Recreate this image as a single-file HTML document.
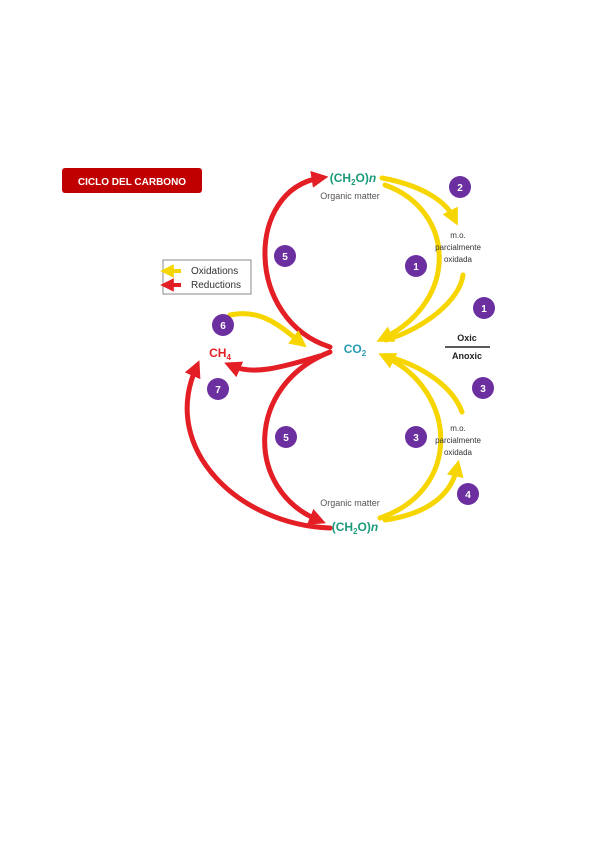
<!DOCTYPE html>
<html><head><meta charset="utf-8"><style>
html,body{margin:0;padding:0;background:#fff;}
svg{display:block;font-family:"Liberation Sans",sans-serif;}
</style></head><body>
<svg width="600" height="848" viewBox="0 0 600 848">
<defs>
<marker id="ry" markerWidth="3.4" markerHeight="3.4" refX="1.7" refY="1.7" orient="auto" markerUnits="strokeWidth"><path d="M0,0 L3.4,1.7 L0,3.4 Z" fill="#f7d500"/></marker>
<marker id="rr" markerWidth="3.4" markerHeight="3.4" refX="1.7" refY="1.7" orient="auto" markerUnits="strokeWidth"><path d="M0,0 L3.4,1.7 L0,3.4 Z" fill="#e31e24"/></marker>
</defs>
<rect x="62" y="168" width="140" height="25" rx="3" fill="#c00000"/>
<text x="132" y="185" font-size="10" font-weight="bold" fill="#fff" text-anchor="middle">CICLO DEL CARBONO</text>
<rect x="163" y="260" width="88" height="34" fill="#fff" stroke="#888"/>
<path d="M167,271 h14" stroke="#f7d500" stroke-width="4" marker-end="url(#ry)" transform="rotate(180 174 271)"/>
<path d="M167,285 h14" stroke="#e31e24" stroke-width="4" marker-end="url(#rr)" transform="rotate(180 174 285)"/>
<text x="191" y="274" font-size="10" fill="#333">Oxidations</text>
<text x="191" y="288" font-size="10" fill="#333">Reductions</text>
<g fill="none" stroke-width="5" stroke-linecap="round">
<path d="M330,347 C245,320 245,190 320,178" stroke="#e31e24" marker-end="url(#rr)"/>
<path d="M330,352 C245,385 245,490 318,520" stroke="#e31e24" marker-end="url(#rr)"/>
<path d="M330,528 C240,525 160,450 196,368" stroke="#e31e24" marker-end="url(#rr)"/>
<path d="M320,356 C285,366 255,376 232,366" stroke="#e31e24" marker-end="url(#rr)"/>
<path d="M382,178 C420,185 445,200 454,218" stroke="#f7d500" marker-end="url(#ry)"/>
<path d="M385,185 C455,210 460,300 384,338" stroke="#f7d500" marker-end="url(#ry)"/>
<path d="M463,275 C460,300 425,328 386,340" stroke="#f7d500"/>
<path d="M230,315 C262,308 282,328 300,342" stroke="#f7d500" marker-end="url(#ry)"/>
<path d="M380,518 C462,490 458,392 386,357" stroke="#f7d500" marker-end="url(#ry)"/>
<path d="M462,412 C452,385 420,365 386,356" stroke="#f7d500"/>
<path d="M385,520 C420,515 450,500 457,468" stroke="#f7d500" marker-end="url(#ry)"/>
</g>
<text x="353" y="182" font-size="12" font-weight="bold" fill="#1a9a7a" text-anchor="middle">(CH<tspan font-size="8" dy="3">2</tspan><tspan dy="-3">O)</tspan><tspan font-style="italic">n</tspan></text>
<text x="350" y="199" font-size="9" fill="#555" text-anchor="middle">Organic matter</text>
<text x="355" y="353" font-size="12" font-weight="bold" fill="#2a9ab0" text-anchor="middle">CO<tspan font-size="8" dy="3">2</tspan></text>
<text x="220" y="357" font-size="12" font-weight="bold" fill="#e31e24" text-anchor="middle">CH<tspan font-size="8" dy="3">4</tspan></text>
<text x="350" y="506" font-size="9" fill="#555" text-anchor="middle">Organic matter</text>
<text x="355" y="531" font-size="12" font-weight="bold" fill="#1a9a7a" text-anchor="middle">(CH<tspan font-size="8" dy="3">2</tspan><tspan dy="-3">O)</tspan><tspan font-style="italic">n</tspan></text>
<g font-size="8" fill="#333" text-anchor="middle">
<text x="458" y="238">m.o.</text><text x="458" y="250">parcialmente</text><text x="458" y="262">oxidada</text>
<text x="458" y="431">m.o.</text><text x="458" y="443">parcialmente</text><text x="458" y="455">oxidada</text>
</g>
<text x="467" y="341" font-size="9" font-weight="bold" fill="#222" text-anchor="middle">Oxic</text>
<line x1="445" y1="347" x2="490" y2="347" stroke="#222" stroke-width="1.5"/>
<text x="467" y="359" font-size="9" font-weight="bold" fill="#222" text-anchor="middle">Anoxic</text>
<g font-size="10" font-weight="bold" fill="#fff" text-anchor="middle">
<circle cx="460" cy="187" r="11" fill="#6b2fa0"/><text x="460" y="191">2</text>
<circle cx="285" cy="256" r="11" fill="#6b2fa0"/><text x="285" y="260">5</text>
<circle cx="416" cy="266" r="11" fill="#6b2fa0"/><text x="416" y="270">1</text>
<circle cx="484" cy="308" r="11" fill="#6b2fa0"/><text x="484" y="312">1</text>
<circle cx="223" cy="325" r="11" fill="#6b2fa0"/><text x="223" y="329">6</text>
<circle cx="218" cy="389" r="11" fill="#6b2fa0"/><text x="218" y="393">7</text>
<circle cx="483" cy="388" r="11" fill="#6b2fa0"/><text x="483" y="392">3</text>
<circle cx="286" cy="437" r="11" fill="#6b2fa0"/><text x="286" y="441">5</text>
<circle cx="416" cy="437" r="11" fill="#6b2fa0"/><text x="416" y="441">3</text>
<circle cx="468" cy="494" r="11" fill="#6b2fa0"/><text x="468" y="498">4</text>
</g>
</svg>
</body></html>
